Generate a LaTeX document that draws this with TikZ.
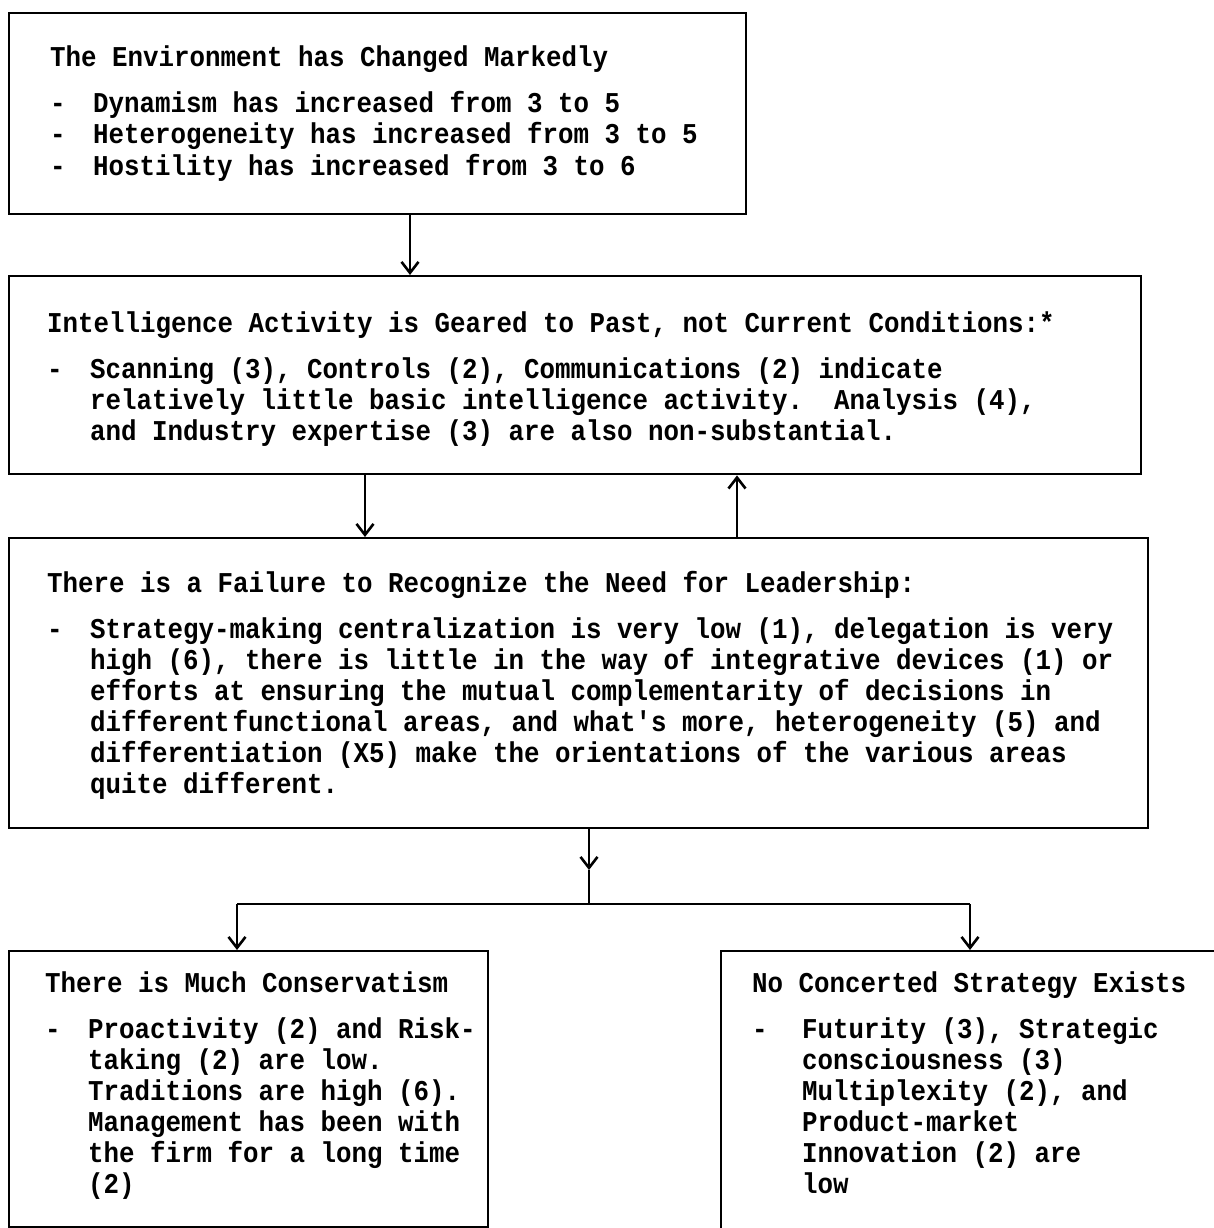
\documentclass[tikz,border=0pt]{standalone}
\usepackage{fontspec}
\newfontfamily\typer{Liberation Mono}[FakeStretch=0.9]
\usetikzlibrary{arrows.meta}

% typewriter setting: every space exactly one character wide
\newcommand\typeset{\typer\bfseries\fontsize{28.7pt}{31pt}\selectfont
  \spaceskip=\fontcharwd\font`\x\relax \xspaceskip=\spaceskip}

% hanging indent for the dash items
\newlength\indw
\setlength\indw{43pt}
\newcommand\dsh{\makebox[\indw][l]{-}}
\newcommand\cnt{\hspace*{\indw}}

\begin{document}
\frenchspacing
\begin{tikzpicture}[x=1pt,y=-1pt,
  frame/.style={draw, line width=2.4pt, rectangle, anchor=north west, inner sep=0pt},
  txt/.style={anchor=base west, align=left, inner sep=0pt, text width=1150pt,
    font=\typeset, execute at begin node=\typeset},
  link/.style={line width=2.4pt},
  arr/.style={link, -{Straight Barb[length=11pt,width=17pt,line width=2.6pt]}}]

\clip (0,0) rectangle (1214,1228);
\fill[white] (0,0) rectangle (1214,1228);

% the five statement boxes
\node[frame, minimum width=737pt, minimum height=201pt] (env) at (8,12) {};
\node[frame, minimum width=1132pt, minimum height=198pt] (intel) at (8,275) {};
\node[frame, minimum width=1139pt, minimum height=290pt] (lead) at (8,537) {};
\node[frame, minimum width=479pt, minimum height=276pt] (cons) at (8,950) {};
\node[frame, minimum width=520pt, minimum height=300pt] (strat) at (720,950) {};

% their texts
\node[txt] (envtext) at (50,67) {%
The Environment has Changed Markedly\\[15pt]
\dsh Dynamism has increased from 3 to 5\\
\dsh Heterogeneity has increased from 3 to 5\\
\dsh Hostility has increased from 3 to 6};

\node[txt] (inteltext) at (47,332) {%
Intelligence Activity is Geared to Past, not Current Conditions:*\\[15pt]
\dsh Scanning (3), Controls (2), Communications (2) indicate\\
\cnt relatively little basic intelligence activity.\ \ Analysis (4),\\
\cnt and Industry expertise (3) are also non-substantial.};

\node[txt] (leadtext) at (47,592) {%
There is a Failure to Recognize the Need for Leadership:\\[15pt]
\dsh Strategy-making centralization is very low (1), delegation is very\\
\cnt high (6), there is little in the way of integrative devices (1) or\\
\cnt efforts at ensuring the mutual complementarity of decisions in\\
\cnt different\kern3pt functional areas, and what's more, heterogeneity (5) and\\
\cnt differentiation (X5) make the orientations of the various areas\\
\cnt quite different.};

\node[txt] (constext) at (45,992) {%
There is Much Conservatism\\[15pt]
\dsh Proactivity (2) and Risk-\\
\cnt taking (2) are low.\\
\cnt Traditions are high (6).\\
\cnt Management has been with\\
\cnt the firm for a long time\\
\cnt (2)};

\node[txt, text width=460pt] (strattext) at (752,992) {\setlength\indw{50pt}%
No Concerted Strategy Exists\\[15pt]
\dsh Futurity (3), Strategic\\
\cnt consciousness (3)\\
\cnt Multiplexity (2), and\\
\cnt Product-market\\
\cnt Innovation (2) are\\
\cnt low};

% columns of the connectors
\coordinate (c1) at (410,0);
\coordinate (c2) at (365,0);
\coordinate (c3) at (737,0);
\coordinate (c4) at (589,0);
\coordinate (split) at (589,904);
\coordinate (mid) at (589,870);
\coordinate (sl) at (237,904);
\coordinate (sr) at (970,904);

\draw[arr] (env.south -| c1) -- (intel.north -| c1);
\draw[arr] (intel.south -| c2) -- (lead.north -| c2);
\draw[arr] (lead.north -| c3) -- (intel.south -| c3);
\draw[arr] (lead.south -| c4) -- (mid);
\draw[link] (mid) -- (split);
\draw[link] (sl) -- (sr);
\draw[arr] (sl) -- (cons.north -| sl);
\draw[arr] (sr) -- (strat.north -| sr);
\end{tikzpicture}
\end{document}
